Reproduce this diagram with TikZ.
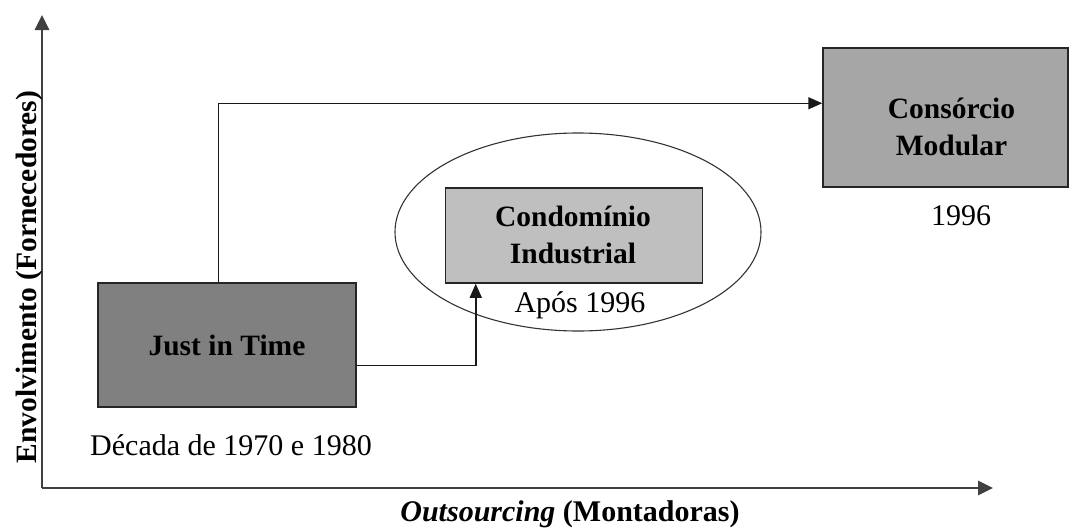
\documentclass[tikz,border=0pt]{standalone}
\usepackage{fontspec}
\setmainfont{Liberation Serif}
\usetikzlibrary{arrows.meta,calc,shapes.geometric}
\begin{document}
\begin{tikzpicture}[x=1pt,y=-1pt,
  every node/.style={font=\fontsize{30}{37}\selectfont, inner sep=0pt},
  box/.style={draw=black!85, line width=1.5pt},
  boxtext/.style={align=center, font=\fontsize{29.5}{37}\selectfont\bfseries},
  axis/.style={draw=black!75, line width=2.6pt, -{Triangle[length=15pt,width=14pt]}},
  conn/.style={draw=black!90, line width=1.5pt, -{Triangle[length=14pt,width=12pt]}},
  caption/.style={anchor=base}
]
\useasboundingbox (0,0) rectangle (1070,530);
% axes
\coordinate (origin) at (42,488);
\coordinate (ytip) at (42,15);
\coordinate (xtip) at (993,488);
\draw[axis] (origin) -- (ytip);
\draw[axis] (origin) -- (xtip);
\node[rotate=90, anchor=base, font=\fontsize{29.5}{36}\selectfont\bfseries] (ylab) at (36,277) {Envolvimento (Fornecedores)};
\node[anchor=base, font=\fontsize{30}{36}\selectfont\bfseries] (xlab) at (570,521) {\textit{Outsourcing} (Montadoras)};
% ellipse
\node[draw=black!80, line width=1.1pt, ellipse, minimum width=366pt, minimum height=198pt] (ell) at (578,232) {};
% boxes
\node[box, fill=black!50, minimum width=258pt, minimum height=124pt] (jit) at (227,345) {};
\node[boxtext] (jitT) at ($(jit.center)+(0,0)$) {Just in Time};
\node[box, fill=black!25, minimum width=257pt, minimum height=95pt] (cond) at (574,235.5) {};
\node[boxtext] (condT) at ($(cond.center)+(-1,-1)$) {Condomínio\\Industrial};
\node[box, fill=black!35, minimum width=245pt, minimum height=139pt] (cons) at (945.5,117.5) {};
\node[boxtext] (consT) at ($(cons.center)+(6,9)$) {Consórcio\\Modular};
% captions
\node[caption] (c1) at (231,455) {Década de 1970 e 1980};
\node[caption] (c2) at (580,312) {Após 1996};
\node[caption] (c3) at (961,225) {1996};
% connectors
\draw[conn] ($(jit.north west)+(121,0)$) |- ($(cons.north west)+(0,56)$);
\draw[conn] ($(jit.north east)+(0,83)$) -| ($(cond.south west)+(31,0)$);
\end{tikzpicture}
\end{document}
